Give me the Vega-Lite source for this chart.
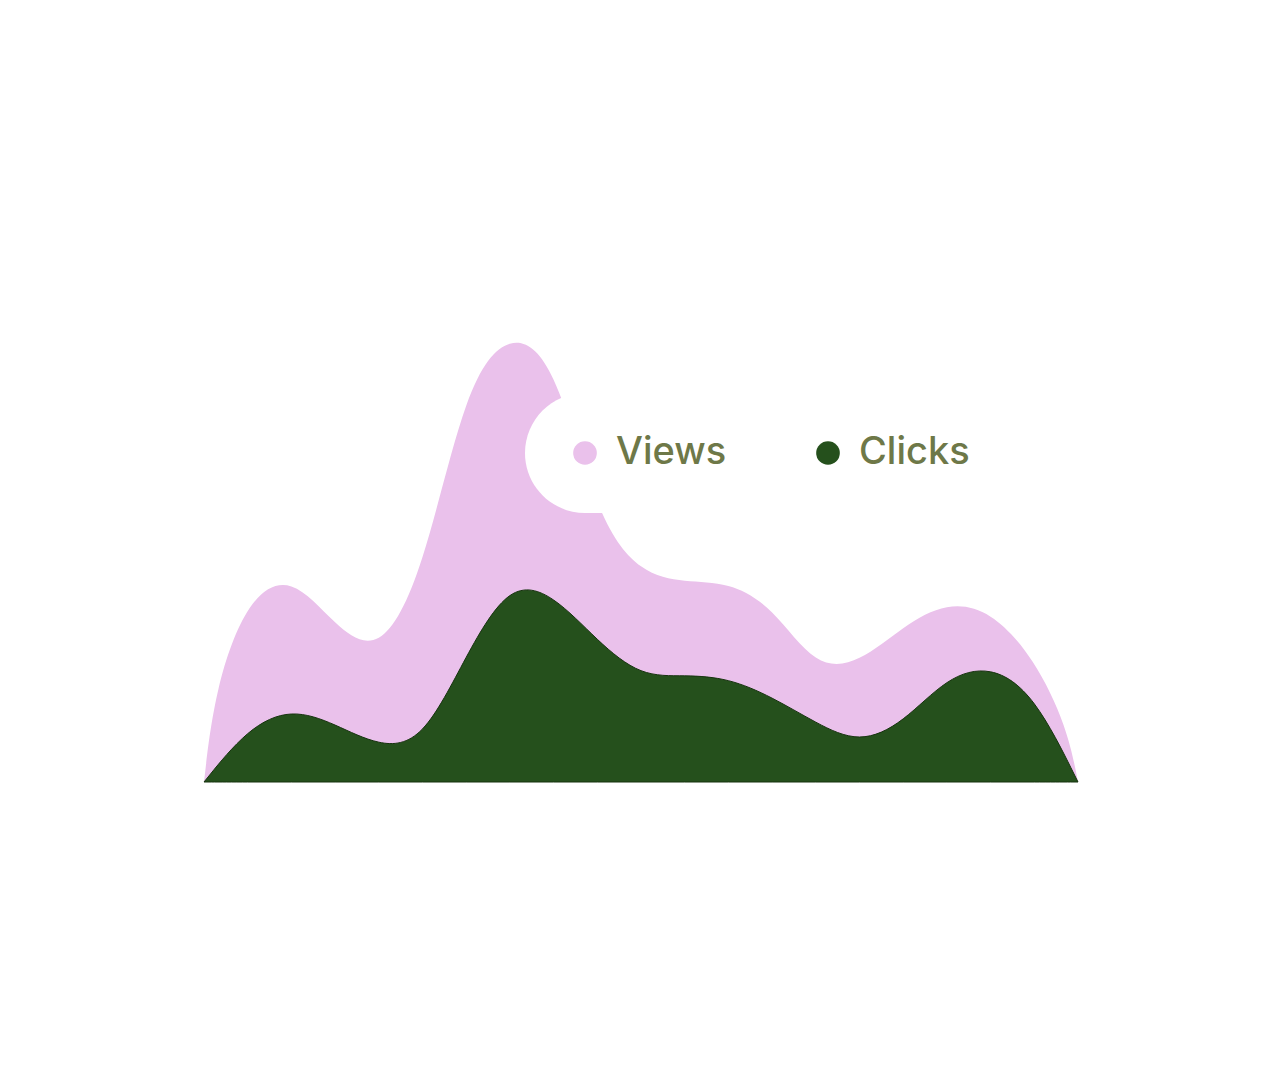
{
  "$schema": "https://vega.github.io/schema/vega-lite/v6.json",
  "background": "white",
  "autosize": "none",
  "width": 874,
  "height": 500,
  "padding": {"left": 204, "top": 282, "right": 202, "bottom": 289},
  "data": {
    "values": [
      {"day": 0, "series": "Views", "value": 0},
      {"day": 0.25, "series": "Views", "value": 940},
      {"day": 1, "series": "Views", "value": 1850},
      {"day": 2, "series": "Views", "value": 2080},
      {"day": 3, "series": "Views", "value": 1560},
      {"day": 4, "series": "Views", "value": 1260},
      {"day": 5, "series": "Views", "value": 2060},
      {"day": 6, "series": "Views", "value": 4000},
      {"day": 7, "series": "Views", "value": 4510},
      {"day": 8, "series": "Views", "value": 4250},
      {"day": 9, "series": "Views", "value": 2620},
      {"day": 10, "series": "Views", "value": 2080},
      {"day": 11, "series": "Views", "value": 2000},
      {"day": 12, "series": "Views", "value": 2000},
      {"day": 13, "series": "Views", "value": 1760},
      {"day": 14, "series": "Views", "value": 1130},
      {"day": 15, "series": "Views", "value": 1190},
      {"day": 16, "series": "Views", "value": 1560},
      {"day": 17, "series": "Views", "value": 1800},
      {"day": 18, "series": "Views", "value": 1720},
      {"day": 19, "series": "Views", "value": 1240},
      {"day": 19.75, "series": "Views", "value": 550},
      {"day": 20, "series": "Views", "value": 0},
      {"day": 0, "series": "Clicks", "value": 0},
      {"day": 1, "series": "Clicks", "value": 540},
      {"day": 2, "series": "Clicks", "value": 740},
      {"day": 3, "series": "Clicks", "value": 580},
      {"day": 4, "series": "Clicks", "value": 355},
      {"day": 5, "series": "Clicks", "value": 390},
      {"day": 6, "series": "Clicks", "value": 1270},
      {"day": 7, "series": "Clicks", "value": 2010},
      {"day": 8, "series": "Clicks", "value": 1875},
      {"day": 9, "series": "Clicks", "value": 1410},
      {"day": 10, "series": "Clicks", "value": 1050},
      {"day": 11, "series": "Clicks", "value": 1070},
      {"day": 12, "series": "Clicks", "value": 1040},
      {"day": 13, "series": "Clicks", "value": 850},
      {"day": 14, "series": "Clicks", "value": 590},
      {"day": 15, "series": "Clicks", "value": 380},
      {"day": 16, "series": "Clicks", "value": 590},
      {"day": 17, "series": "Clicks", "value": 1050},
      {"day": 18, "series": "Clicks", "value": 1170},
      {"day": 19, "series": "Clicks", "value": 880},
      {"day": 20, "series": "Clicks", "value": 0}
    ]
  },
  "encoding": {
    "x": {
      "field": "day",
      "type": "quantitative",
      "scale": {"domain": [0, 20], "nice": false, "zero": false},
      "axis": null
    },
    "y": {
      "field": "value",
      "type": "quantitative",
      "stack": null,
      "scale": {"domain": [0, 5000], "nice": false},
      "axis": null
    },
    "color": {
      "field": "series",
      "type": "nominal",
      "scale": {"domain": ["Views", "Clicks"], "range": ["#eac1eb", "#25501c"]},
      "legend": {
        "title": null,
        "orient": "none",
        "direction": "horizontal",
        "legendX": 321,
        "legendY": 111,
        "symbolType": "circle",
        "symbolSize": 560,
        "symbolStrokeWidth": 1,
        "labelFont": "Inter",
        "labelFontSize": 38,
        "labelFontWeight": 500,
        "labelColor": "#6e7848",
        "labelOffset": 12,
        "columnPadding": 82,
        "fillColor": "white",
        "cornerRadius": 62,
        "padding": 41,
        "encode": {
          "symbols": {
            "update": {
              "fill": {"signal": "datum.value === 'Views' ? '#dbaad8' : '#25501c'"},
              "stroke": {"signal": "datum.value === 'Views' ? '#dbaad8' : '#17330f'"},
              "opacity": {"value": 1}
            }
          }
        }
      }
    }
  },
  "layer": [
    {
      "transform": [{"filter": "datum.series === 'Views'"}],
      "mark": {"type": "area", "interpolate": "basis", "opacity": 1}
    },
    {
      "transform": [{"filter": "datum.series === 'Clicks'"}],
      "mark": {"type": "area", "interpolate": "basis", "opacity": 1, "stroke": "#17330f", "strokeWidth": 1}
    }
  ],
  "config": {"view": {"stroke": null}}
}
